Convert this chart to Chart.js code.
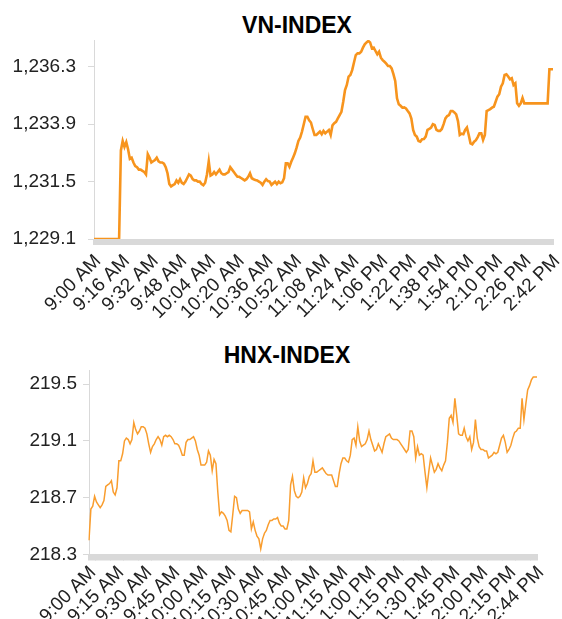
<!DOCTYPE html>
<html lang="en">
<head>
  <meta charset="UTF-8">
  <title>VN-INDEX / HNX-INDEX intraday</title>
  <script src="https://cdn.jsdelivr.net/npm/chart.js"></script>
  <style>
    body { margin: 0; background: #fff; }
    .wrap { position: relative; width: 562px; height: 619px; }
    .chart-title {
      position: absolute;
      font-family: "Liberation Sans", Arial, sans-serif;
      font-weight: bold;
      font-size: 23px;
      line-height: 26px;
      color: #000;
      transform: translateX(-50%);
      white-space: nowrap;
    }
    canvas { position: absolute; left: 0; }
  </style>
</head>
<body>
  <div class="wrap">
    <div class="chart-title" style="left:297px; top:12px;">VN-INDEX</div>
    <canvas id="vnChart" width="562" height="330" style="top:0;"></canvas>
    <div class="chart-title" style="left:287px; top:342px;">HNX-INDEX</div>
    <canvas id="hnxChart" width="562" height="309" style="top:310px;"></canvas>
  </div>

  <script>
    // tick labels shown on the time axis
    const vnTimeLabels = ['9:00 AM', '9:16 AM', '9:32 AM', '9:48 AM', '10:04 AM', '10:20 AM', '10:36 AM',
      '10:52 AM', '11:08 AM', '11:24 AM', '1:06 PM', '1:22 PM', '1:38 PM', '1:54 PM', '2:10 PM', '2:26 PM', '2:42 PM'];
    const hnxTimeLabels = ['9:00 AM', '9:15 AM', '9:30 AM', '9:45 AM', '10:00 AM', '10:15 AM', '10:30 AM',
      '10:45 AM', '11:00 AM', '11:15 AM', '1:00 PM', '1:15 PM', '1:30 PM', '1:45 PM', '2:00 PM', '2:15 PM', '2:44 PM'];

    const vnTicks = [1229.1, 1231.5, 1233.9, 1236.3];
    const hnxTicks = [218.3, 218.7, 219.1, 219.5];

    // one value per minute
    const vnValues = [
      1229.1, 1229.1, 1229.1, 1229.1, 1229.1, 1229.1, 1229.1, 1229.1, 1229.1, 1229.1, 1229.1, 1229.1, 1229.1, 1229.1, 1229.1,
      1232.8, 1233.2, 1232.95, 1233.15, 1232.85, 1232.45, 1232.5, 1232.3, 1232.15, 1232.1, 1232.0, 1232.0, 1231.95, 1231.9, 1231.8,
      1232.65, 1232.5, 1232.3, 1232.35, 1232.4, 1232.5, 1232.35, 1232.3, 1232.3, 1232.25, 1232.1, 1231.85, 1231.4, 1231.3, 1231.35,
      1231.4, 1231.55, 1231.45, 1231.6, 1231.45, 1231.4, 1231.5, 1231.65, 1231.8, 1231.75, 1231.6, 1231.55, 1231.55, 1231.5, 1231.5,
      1231.4, 1231.35, 1231.45, 1231.8, 1232.35, 1231.75, 1231.8, 1231.9, 1231.8, 1231.9, 1232.0, 1231.85, 1231.8, 1231.8, 1231.85,
      1231.9, 1232.1, 1232.0, 1231.9, 1231.8, 1231.7, 1231.7, 1231.65, 1231.6, 1231.55, 1231.6, 1231.7, 1231.85, 1231.64, 1231.6,
      1231.57, 1231.55, 1231.5, 1231.45, 1231.36, 1231.5, 1231.6, 1231.52, 1231.5, 1231.36, 1231.43, 1231.5, 1231.4, 1231.5, 1231.43,
      1231.47, 1231.64, 1232.26, 1232.26, 1232.12, 1232.33, 1232.5, 1232.68, 1232.92, 1233.2, 1233.34, 1233.59, 1233.9, 1234.21, 1234.21,
      1234.06, 1233.97, 1233.7, 1233.45, 1233.45, 1233.52, 1233.59, 1233.48, 1233.62, 1233.52, 1233.59, 1233.66, 1233.45, 1233.85, 1233.94,
      1234.0, 1234.14, 1234.28, 1234.42, 1234.84, 1235.33, 1235.54, 1235.89, 1235.96, 1236.16, 1236.48, 1236.79, 1236.86, 1236.86, 1236.93,
      1237.1, 1237.24, 1237.32, 1237.38, 1237.32, 1237.07, 1237.1, 1236.96, 1236.82, 1236.93, 1236.68, 1236.58, 1236.51, 1236.43, 1236.33,
      1236.33, 1236.23, 1235.99, 1235.71, 1234.98, 1234.73, 1234.67, 1234.59, 1234.6, 1234.56, 1234.45, 1234.35, 1234.14, 1233.66, 1233.45,
      1233.38, 1233.2, 1233.17, 1233.27, 1233.28, 1233.38, 1233.66, 1233.7, 1233.76, 1233.9, 1233.87, 1233.66, 1233.62, 1233.62, 1233.7,
      1233.9, 1234.14, 1234.24, 1234.28, 1234.45, 1234.45, 1234.39, 1234.31, 1234.03, 1233.45, 1233.5, 1233.48, 1233.66, 1233.76, 1233.45,
      1233.1, 1233.06, 1233.17, 1233.23, 1233.36, 1233.52, 1233.52, 1233.24, 1233.45, 1234.45, 1234.49, 1234.53, 1234.59, 1234.63, 1234.84,
      1235.05, 1235.15, 1235.47, 1235.61, 1235.96, 1235.99, 1235.89, 1235.78, 1235.82, 1235.54, 1235.61, 1234.77, 1234.67, 1234.77, 1235.0,
      1234.77, 1234.77, 1234.77, 1234.77, 1234.77, 1234.77, 1234.77, 1234.77, 1234.77, 1234.77, 1234.77, 1234.77, 1234.77, 1234.77,
      1236.2, 1236.2, 1236.2
    ];

    const hnxValues = [
      218.40, 218.62, 218.64, 218.71, 218.67, 218.65, 218.63, 218.65, 218.68, 218.78, 218.79, 218.80, 218.82, 218.74, 218.72,
      218.77, 218.96, 218.96, 219.01, 219.10, 219.12, 219.11, 219.08, 219.11, 219.23, 219.18, 219.15, 219.17, 219.20, 219.20,
      219.19, 219.15, 219.08, 219.02, 219.06, 219.08, 219.11, 219.13, 219.11, 219.07, 219.13, 219.14, 219.13, 219.14, 219.13,
      219.11, 219.08, 219.08, 219.07, 219.04, 219.00, 219.00, 219.09, 219.11, 219.11, 219.12, 219.13, 219.10, 219.04, 219.00,
      218.93, 218.93, 218.93, 218.95, 219.03, 219.00, 218.89, 218.97, 218.94, 218.74, 218.58, 218.60, 218.59, 218.57, 218.54,
      218.47, 218.46, 218.58, 218.71, 218.70, 218.62, 218.59, 218.61, 218.61, 218.61, 218.61, 218.60, 218.48, 218.53, 218.47,
      218.43, 218.41, 218.34, 218.41, 218.45, 218.47, 218.51, 218.54, 218.54, 218.55, 218.55, 218.56, 218.52, 218.50, 218.50,
      218.48, 218.48, 218.54, 218.79, 218.85, 218.75, 218.71, 218.70, 218.71, 218.74, 218.84, 218.77, 218.80, 218.85, 218.87,
      218.96, 218.88, 218.88, 218.89, 218.90, 218.91, 218.89, 218.87, 218.86, 218.86, 218.86, 218.82, 218.78, 218.78, 218.87,
      218.94, 218.98, 218.98, 218.96, 218.95, 219.00, 219.11, 219.12, 219.07, 219.20, 219.10, 219.06, 219.07, 219.08, 219.11,
      219.17, 219.11, 219.07, 219.03, 219.04, 219.08, 219.05, 219.02, 219.08, 219.13, 219.14, 219.15, 219.12, 219.11, 219.11,
      219.11, 219.10, 219.08, 219.06, 219.04, 219.02, 219.04, 219.17, 219.17, 219.13, 218.98, 219.06, 219.00, 219.01, 219.00,
      218.88, 218.77, 218.88, 218.98, 218.93, 218.88, 218.90, 218.94, 218.91, 218.89, 218.93, 218.96, 219.09, 219.26, 219.28,
      219.23, 219.40, 219.28, 219.15, 219.14, 219.14, 219.19, 219.13, 219.10, 219.13, 219.04, 219.09, 219.25, 219.12, 219.06,
      219.04, 219.04, 219.03, 219.03, 218.98, 218.99, 219.00, 219.02, 219.01, 219.02, 219.07, 219.12, 219.14, 219.09, 219.02,
      219.04, 219.07, 219.12, 219.16, 219.17, 219.19, 219.19, 219.40, 219.25, 219.36, 219.46, 219.49, 219.53, 219.55, 219.55,
      219.55
    ];

    const FONT = '"Liberation Sans", Arial, sans-serif';
    const AXIS_GREY = '#d9d9d9';

    function makeChart(id, values, timeLabels, step, yTicks, cfg) {
      new Chart(document.getElementById(id), {
        type: 'line',
        data: {
          labels: values.map((_, i) => i),
          datasets: [{
            data: values,
            borderColor: cfg.color,
            borderWidth: cfg.lineWidth,
            pointRadius: 0,
            tension: 0,
            fill: false
          }]
        },
        options: {
          responsive: false,
          animation: false,
          layout: { padding: { top: cfg.top, right: cfg.right, left: 0, bottom: 0 } },
          plugins: { legend: { display: false }, tooltip: { enabled: false } },
          scales: {
            x: {
              grid: { drawOnChartArea: false, color: AXIS_GREY, tickLength: 6, lineWidth: 2 },
              border: { color: AXIS_GREY, width: 1 },
              ticks: {
                autoSkip: false,
                minRotation: 45,
                maxRotation: 45,
                padding: cfg.xPad,
                labelOffset: 4,
                color: '#222',
                font: { family: FONT, size: 19 },
                callback: (v, i) => (i % step === 0 ? timeLabels[i / step] : '')
              },
              // keep the labels at a fixed 45 degrees
              afterCalculateLabelRotation: (s) => { s.labelRotation = 45; },
              afterFit: (s) => { s.height = cfg.xHeight; s.paddingLeft = 0; s.paddingRight = 0; }
            },
            y: {
              min: yTicks[0],
              max: cfg.yMax,
              grid: { drawOnChartArea: false, color: AXIS_GREY, tickLength: 6 },
              border: { color: AXIS_GREY, width: 1 },
              ticks: {
                padding: cfg.labelPad,
                color: '#222',
                font: { family: FONT, size: 19 },
                callback: (v) => v.toLocaleString('en-US', { minimumFractionDigits: 1, maximumFractionDigits: 1 })
              },
              afterBuildTicks: (s) => { s.ticks = yTicks.map(v => ({ value: v })); },
              afterFit: (s) => { s.width = cfg.yWidth; s.paddingTop = 0; s.paddingBottom = 0; }
            }
          }
        }
      });
    }

    makeChart('vnChart', vnValues, vnTimeLabels, 16, vnTicks,
      { top: 40, right: 9, yWidth: 94, xHeight: 91, yMax: 1237.42, labelPad: 12, xPad: 5,
        lineWidth: 2.6, color: '#f7941d' });
    makeChart('hnxChart', hnxValues, hnxTimeLabels, 15, hnxTicks,
      { top: 60, right: 25, yWidth: 89, xHeight: 64.5, yMax: 219.6, labelPad: 6, xPad: 1,
        lineWidth: 1.5, color: '#f99d2e' });
  </script>
</body>
</html>
